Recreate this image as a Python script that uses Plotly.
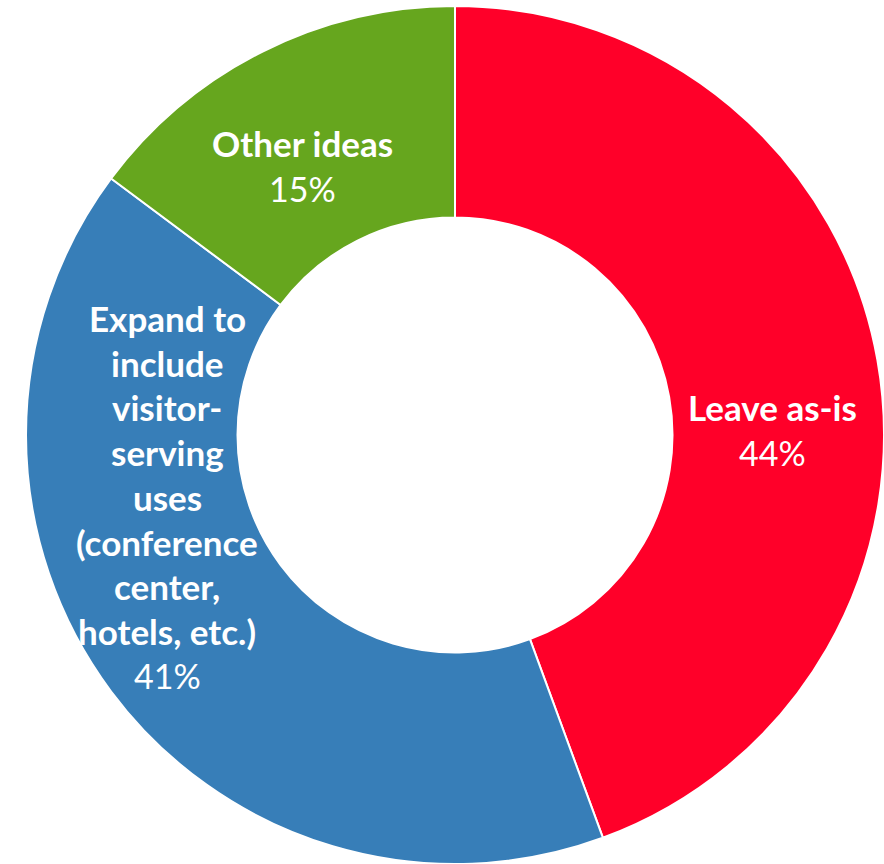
import plotly.graph_objects as go

labels = ["Leave as-is", "Expand to include visitor-serving uses (conference center, hotels, etc.)", "Other ideas"]
values = [44.4, 40.8, 14.8]
colors = ["#ff0029", "#377eb8", "#66a61e"]
label_lines = [
    ["Leave as-is"],
    ["Expand to", "include", "visitor-", "serving", "uses", "(conference", "center,", "hotels, etc.)"],
    ["Other ideas"],
]

W, H = 884, 864
ML, MR, MT, MB = 26, 0, 6, 0
PW, PH = W - ML - MR, H - MT - MB

fig = go.Figure(go.Pie(
    labels=labels, values=values, hole=0.507, sort=False, direction="clockwise",
    rotation=0, marker=dict(colors=colors, line=dict(color="white", width=2)),
    textinfo="none", hoverinfo="label+percent", showlegend=False,
))

# label anchor (center x, first line y) in pixels
anchors = [(772, 407), (167, 318), (302, 143)]
line_gap = [45, 44.7, 45]
annotations = []
for lines, val, (cx, cy), gap in zip(label_lines, values, anchors, line_gap):
    for i, ln in enumerate(lines):
        annotations.append(dict(
            x=(cx - ML) / PW, y=(H - MB - (cy + i * gap)) / PH, xref="paper", yref="paper",
            text=f"<b>{ln}</b>", showarrow=False, xanchor="center", yanchor="middle",
            font=dict(family="Lato", size=35, color="white")))
    annotations.append(dict(
        x=(cx - ML) / PW, y=(H - MB - (cy + len(lines) * gap)) / PH, xref="paper", yref="paper",
        text=f"{val:.0f}%", showarrow=False, xanchor="center", yanchor="middle",
        font=dict(family="Lato", size=34, color="white")))

fig.update_layout(
    width=W, height=H, margin=dict(l=ML, r=MR, t=MT, b=MB),
    paper_bgcolor="white", plot_bgcolor="white", annotations=annotations,
)
fig.write_html("out.html")
